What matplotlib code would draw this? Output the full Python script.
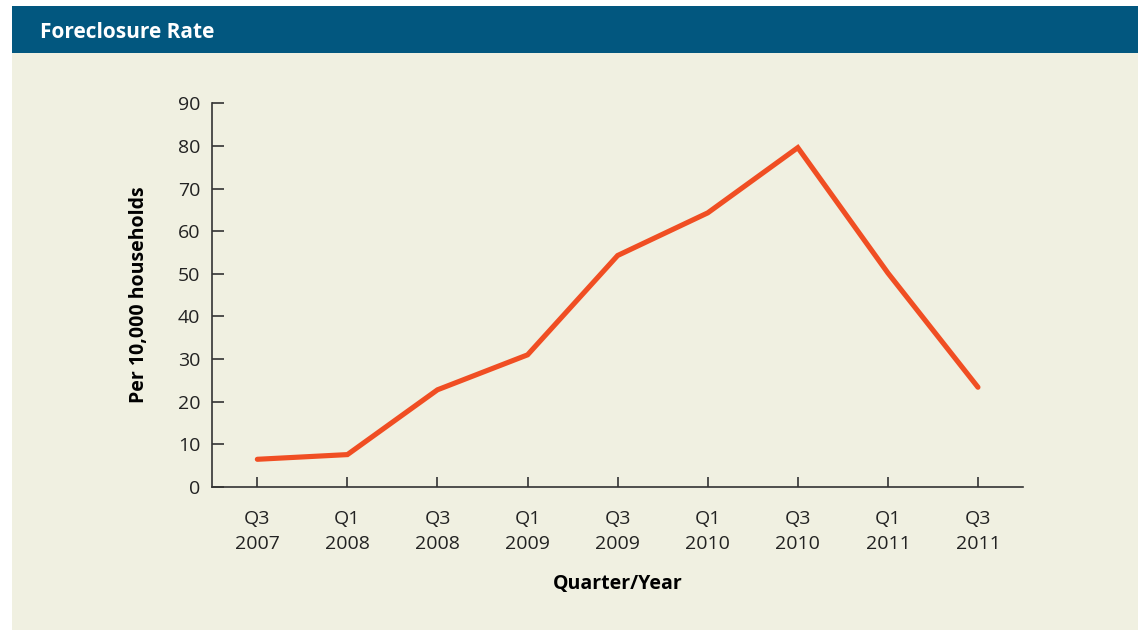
import matplotlib
matplotlib.use('Agg')
import matplotlib.pyplot as plt
from matplotlib.patches import Rectangle

# Data
kvartaalit = ['Q3\n2007', 'Q1\n2008', 'Q3\n2008', 'Q1\n2009', 'Q3\n2009',
              'Q1\n2010', 'Q3\n2010', 'Q1\n2011', 'Q3\n2011']
arvot = [6.5, 7.6, 22.8, 31.0, 54.3, 64.3, 79.6, 50.2, 23.4]
y_ticks = [0, 10, 20, 30, 40, 50, 60, 70, 80, 90]

HEADER_BLUE = '#02577f'
PANEL_BG = '#f0f0e1'
LINE_RED = '#f04e23'
AXIS_COL = '#333333'

plt.rcParams['font.family'] = ['Open Sans', 'DejaVu Sans']

W, H = 1138, 630
fig = plt.figure(figsize=(W / 100, H / 100), dpi=100, facecolor='white')

# Taustapaneeli ja otsikkopalkki
fig.patches.append(Rectangle((12 / W, 0), 1 - 12 / W, (630 - 53) / H,
                             transform=fig.transFigure, facecolor=PANEL_BG,
                             edgecolor='none', zorder=-2))
fig.patches.append(Rectangle((12 / W, (630 - 53) / H), 1 - 12 / W, 47 / H,
                             transform=fig.transFigure, facecolor=HEADER_BLUE,
                             edgecolor='none', zorder=-2))
fig.text(40 / W, (630 - 32) / H, 'Foreclosure Rate', color='white',
         fontsize=15, fontweight='bold', va='center', ha='left')

ax = fig.add_axes([212.3 / W, (630 - 487) / H, 810.7 / W, 383.7 / H])
ax.set_zorder(2)
ax.set_facecolor('none')

x = list(range(len(kvartaalit)))
ax.plot(x, arvot, color=LINE_RED, linewidth=3.7, solid_capstyle='round',
        solid_joinstyle='miter', clip_on=False)

ax.set_xlim(-0.5, 8.5)
ax.set_ylim(0, 90)
ax.set_xticks(x)
ax.set_xticklabels(kvartaalit, linespacing=1.5)
ax.set_yticks(y_ticks)

for s in ['top', 'right']:
    ax.spines[s].set_visible(False)
for s in ['left', 'bottom']:
    ax.spines[s].set_color(AXIS_COL)
    ax.spines[s].set_linewidth(1.2)

ax.tick_params(axis='y', direction='in', length=8.6, width=1.2, color=AXIS_COL,
               labelsize=14, labelcolor='#222222', pad=8.5)
ax.tick_params(axis='x', direction='in', length=7, width=1.2, color=AXIS_COL,
               labelsize=14, labelcolor='#222222', pad=16.5)

ax.set_ylabel('Per 10,000 households', fontsize=14, fontweight='bold',
              color='black', labelpad=21)
ax.set_xlabel('Quarter/Year', fontsize=14, fontweight='bold', color='black',
              labelpad=15)

fig.savefig('out.png', dpi=100, facecolor='white')
